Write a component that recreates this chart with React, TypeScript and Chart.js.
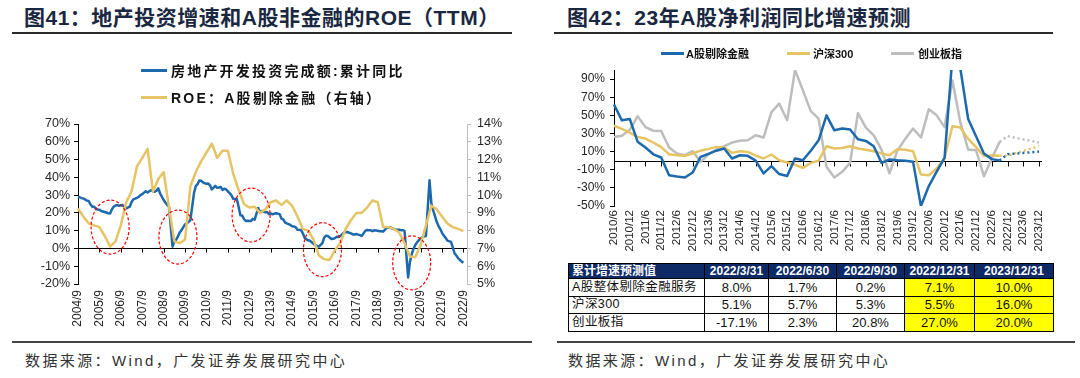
import React, { useEffect, useRef } from 'react';
import { Chart, registerables } from 'chart.js';

Chart.register(...registerables);

const FONT = '"Liberation Sans", Arial, "Noto Sans CJK SC", sans-serif';
const BLUE = '#1d69ad';
const GOLD = '#e6c463';
const GRAY = '#bdbdbd';

// ---------------- Figure 41 ----------------
const fig41Title = '图41：地产投资增速和A股非金融的ROE（TTM）';
const fig41Legend = ['房地产开发投资完成额:累计同比', 'ROE：A股剔除金融（右轴）'];

// monthly categories 2004/9 .. 2022/11 (axis range)
const reMonths: string[] = [];
for (let y = 2004, m = 9; y < 2022 || (y === 2022 && m <= 11); ) {
  reMonths.push(`${y}/${m}`);
  m += 1;
  if (m > 12) { m = 1; y += 1; }
}

// 房地产开发投资完成额:累计同比 (%), monthly from 2004/9, January not published
const reInvestYoY: (number | null)[] = [
  28.9, 28.8, 28.3, 28.1,
  null, 26.9, 26.7, 24.7, 23.5, 23.5, 22.3, 21.9, 21.8, 21.1, 20.8, 20.5,
  null, 19.8, 19.7, 22.0, 23.5, 24.2, 24.4, 24.0, 24.3, 24.4, 23.5, 22.5,
  null, 23.5, 26.0, 27.6, 28.0, 28.5, 29.0, 30.0, 30.5, 31.4, 32.2, 31.5,
  null, 32.9, 32.2, 31.9, 32.5, 33.8, 30.9, 29.1, 27.2, 25.8, 24.5, 23.4,
  null, 1.0, 4.1, 4.9, 6.8, 9.0, 10.3, 12.0, 13.5, 14.1, 15.0, 16.0,
  null, 31.1, 35.1, 36.2, 38.2, 38.1, 37.2, 36.7, 36.4, 36.5, 35.5, 33.2,
  null, 35.2, 34.1, 34.3, 34.6, 32.9, 33.6, 33.2, 32.0, 31.1, 29.9, 27.9,
  null, 27.8, 23.5, 18.7, 18.5, 16.6, 15.4, 15.6, 15.4, 15.4, 16.7, 16.2,
  null, 22.8, 20.2, 21.1, 20.6, 20.3, 20.5, 19.3, 19.7, 19.2, 19.5, 19.8,
  null, 19.3, 16.8, 16.4, 14.7, 14.1, 13.7, 13.2, 12.5, 12.4, 11.9, 10.5,
  null, 10.4, 8.5, 6.0, 5.1, 4.6, 4.3, 3.5, 2.6, 2.0, 1.3, 1.0,
  null, 3.0, 6.2, 7.2, 7.0, 6.1, 5.3, 5.4, 5.8, 6.6, 6.5, 6.9,
  null, 8.9, 9.1, 9.3, 8.8, 8.5, 7.9, 7.9, 8.1, 7.8, 7.5, 7.0,
  null, 9.9, 10.4, 10.3, 10.2, 9.7, 10.2, 10.1, 9.9, 9.7, 9.7, 9.5,
  null, 11.6, 11.8, 11.9, 11.2, 10.9, 10.6, 10.5, 10.5, 10.3, 10.2, 9.9,
  null, -16.3, -7.7, -3.3, -0.3, 1.9, 3.4, 4.6, 5.6, 6.3, 6.8, 7.0,
  null, 38.3, 25.6, 21.6, 18.3, 15.0, 12.7, 10.9, 8.8, 7.2, 6.0, 4.4,
  null, 3.7, 0.7, -2.7, -4.0, -5.4, -6.4, -7.4, -8.0,
];

// ROE (TTM) A股剔除金融 (%), quarterly from 2004/9
const roeTTM: number[] = [
  9.25, 8.8, 8.4, 8.3, 8.2, 7.7, 7.1, 7.4, 8.3, 9.6,
  10.2, 11.6, 12.1, 12.6, 10.2, 10.9, 11.3, 9.3, 7.4, 7.3,
  7.5, 10.5, 11.3, 11.9, 12.4, 12.9, 12.1, 12.5, 12.5, 11.2,
  10.3, 9.5, 9.3, 9.34, 9.0, 9.2, 9.6, 9.7, 9.45, 9.7,
  9.4, 8.8, 8.1, 8.0, 7.5, 6.6, 6.4, 6.35, 6.9, 7.3,
  8.1, 8.6, 9.0, 9.0, 9.3, 9.7, 9.6, 8.2, 8.2, 8.1,
  7.9, 7.3, 6.55, 6.5, 7.2, 8.3, 9.4, 9.2, 8.8, 8.4,
  8.2, 8.1, 7.97,
];
const roeSeries = reMonths.map((_, i) =>
  i % 3 === 0 && i / 3 < roeTTM.length ? roeTTM[i / 3] : null
);

const leftTicksY = { min: -20, max: 70, step: 10 };
const rightTicksY = { min: 5, max: 14, step: 1 };

// highlighted episodes (red dashed ellipses)
const highlightMonths = ['2006/3', '2009/5', '2012/10', '2016/2', '2020/4'];
const highlightLevels = [12.0, 6.4, 18.8, -0.7, -8.1];

// ---------------- Figure 42 ----------------
const fig42Title = '图42：23年A股净利润同比增速预测';
const fig42Series = ['A股剔除金融', '沪深300', '创业板指'];

const quarters: string[] = [];
for (let y = 2010, m = 6; y < 2023 || (y === 2023 && m <= 12); ) {
  quarters.push(`${y}/${m}`);
  m += 3;
  if (m > 12) { m = 3; y += 1; }
}

const exFinGrowth: number[] = [
  62, 44.5, 46, 21, 14.5, 7, 3.5, -16, -17.5, -18.5,
  -13, 4.2, 7.5, 11, 13.4, 2.4, 6, 5.3, 0, -14,
  -6, -14.8, -17, 2.4, 0.5, 11, 22.5, 50, 33.5, 35.4,
  34.3, 23.6, 21.8, 15.9, -2.4, 1.3, 0.5, 0, -1.3, -50,
  -28, -12, 3, 115, 102, 46, 27, 8.0, 1.7, 0.2,
];
const csi300Growth: number[] = [
  38.5, 35, 31, 26, 24.4, 20, 15, 7.1, 6, 5.3,
  7.9, 11, 13, 15.2, 14.5, 8.6, 10.4, 9.7, 5.5, 2.4,
  6.8, 0.5, -2, -4.5, -7.9, -2.4, 0, 15.9, 13.4, 14,
  15.9, 13.4, 12, 10.5, 8, 6, 12.5, 12, 10.4, -15.2,
  -16, -8.6, 3, 37.9, 36.5, 24, 15, 5.1, 5.7, 5.3,
];
const chinextGrowth: number[] = [
  26, 27.5, 34, 49, 37, 33, 32.8, 14.5, 7.9, 6,
  10.4, -1.3, 7, 12.3, 15.9, 20, 22, 22.5, 28, 25.5,
  53.6, 62.8, 44.5, 100, 77.5, 54.7, 46.4, -6.8, -18.5, -12.3,
  -2.4, 52.5, 36.5, 28, 12, -14, 11, 24, 35.4, 25.5,
  56.6, 50, 37, 88.5, 42.6, 12.3, 11.5, -17.1, 2.3, 20.8,
];

const growthTickValues = [-50, -30, -10, 10, 30, 50, 70, 90];
const growthRange = { min: -50, max: 100 };

// forecast table
const tableHeader = '累计增速预测值';
const tableDates = ['2022/3/31', '2022/6/30', '2022/9/30', '2022/12/31', '2023/12/31'];
const tableRowNames = ['A股整体剔除金融服务', '沪深300', '创业板指'];
const forecastExFin = [8.0, 1.7, 0.2, 7.1, 10.0];
const forecastCsi300 = [5.1, 5.7, 5.3, 5.5, 16.0];
const forecastChinext = [-17.1, 2.3, 20.8, 27.0, 20.0];
const forecastRows = [forecastExFin, forecastCsi300, forecastChinext];

const sourceText = '数据来源：Wind，广发证券发展研究中心';

// forecast (dotted) series built from the table: from 2022/9 on
function forecastSeries(row: number[]) {
  const out: (number | null)[] = quarters.map(() => null);
  [2, 3, 4].forEach((k) => {
    const q = tableDates[k].split('/').slice(0, 2).join('/');
    const idx = quarters.indexOf(q);
    if (idx >= 0) out[idx] = row[k];
  });
  return out;
}

// ---------------- plugins ----------------
const axisAtZero = {
  id: 'axisAtZero',
  beforeDatasetsDraw(chart: any, _args: any, opts: any) {
    const { ctx, chartArea, scales } = chart;
    const y = Math.round(scales[opts.yId].getPixelForValue(0)) + 0.5;
    const xs = scales.x;
    ctx.save();
    ctx.strokeStyle = '#000';
    ctx.lineWidth = 1;
    ctx.beginPath();
    ctx.moveTo(chartArea.left, y);
    ctx.lineTo(chartArea.right + (opts.extend || 0), y);
    const n = xs.getLabels().length;
    for (let i = 0; i < n; i += opts.every) {
      if (!opts.showFirst && i === 0) continue;
      const px = Math.round(xs.getPixelForValue(i)) + 0.5;
      ctx.moveTo(px, y);
      ctx.lineTo(px, y + opts.len);
    }
    ctx.stroke();
    ctx.restore();
  },
};

const ellipses = {
  id: 'ellipses',
  afterDatasetsDraw(chart: any, _args: any, opts: any) {
    if (!opts || !opts.labels) return;
    const { ctx, scales } = chart;
    ctx.save();
    ctx.strokeStyle = '#ff0000';
    ctx.lineWidth = 1.2;
    ctx.setLineDash([3, 2]);
    opts.labels.forEach((lab: string, i: number) => {
      const cx = scales.x.getPixelForValue(scales.x.getLabels().indexOf(lab));
      const cy = scales.y.getPixelForValue(opts.values[i]);
      ctx.beginPath();
      ctx.ellipse(cx, cy, opts.rx, opts.ry, 0, 0, Math.PI * 2);
      ctx.stroke();
    });
    ctx.restore();
  },
};

const tickFont = { family: FONT, size: 12 };

function leftConfig(): any {
  return {
    type: 'line',
    data: {
      labels: reMonths,
      datasets: [
        {
          label: fig41Legend[0], data: reInvestYoY, yAxisID: 'y',
          borderColor: BLUE, backgroundColor: BLUE, borderWidth: 2.5, spanGaps: true, order: 1,
        },
        {
          label: fig41Legend[1], data: roeSeries, yAxisID: 'y1',
          borderColor: GOLD, backgroundColor: GOLD, borderWidth: 2.5, spanGaps: true, order: 0,
        },
      ],
    },
    options: {
      animation: false, responsive: false, devicePixelRatio: 1,
      layout: { padding: { top: 84, left: 0, right: 0, bottom: 0 } },
      elements: { point: { radius: 0 }, line: { tension: 0, borderJoinStyle: 'round' } },
      plugins: {
        legend: { display: false }, tooltip: { enabled: false },
        axisAtZero: { yId: 'y', every: 12, len: 4, showFirst: false },
        ellipses: { labels: highlightMonths, values: highlightLevels, rx: 19, ry: 27 },
      },
      scales: {
        x: {
          type: 'category', offset: false,
          grid: { display: false, drawTicks: false }, border: { display: false },
          ticks: {
            autoSkip: false, maxRotation: 90, minRotation: 90, padding: 6, color: '#262626',
            font: tickFont,
            callback: (_v: any, i: number) => (i % 12 === 0 && i < 217 ? reMonths[i] : ''),
          },
          afterFit: (s: any) => { s.height = 56; },
        },
        y: {
          position: 'left', min: leftTicksY.min, max: leftTicksY.max,
          ticks: { autoSkip: false, stepSize: leftTicksY.step, callback: (v: any) => `${v}%`, color: '#262626', font: { family: FONT, size: 12.5 }, padding: 4 },
          grid: { drawOnChartArea: false, color: '#000', tickLength: 4 },
          border: { color: '#000' },
          afterFit: (s: any) => { s.width = 78; },
        },
        y1: {
          position: 'right', min: rightTicksY.min, max: rightTicksY.max,
          ticks: { autoSkip: false, stepSize: rightTicksY.step, callback: (v: any) => `${v}%`, color: '#262626', font: { family: FONT, size: 12.5 }, padding: 6 },
          grid: { drawOnChartArea: false, color: '#bfbfbf', tickLength: 4 },
          border: { color: '#bfbfbf' },
          afterFit: (s: any) => { s.width = 73; },
        },
      },
    },
    plugins: [axisAtZero, ellipses],
  };
}

function rightConfig(): any {
  const solid = (label: string, data: number[], color: string) => ({
    label, data, borderColor: color, backgroundColor: color, borderWidth: 2.5,
  });
  const dotted = (label: string, row: number[], color: string) => ({
    label, data: forecastSeries(row), borderColor: color, backgroundColor: color,
    borderWidth: 2.5, borderDash: [2, 3], spanGaps: true,
  });
  return {
    type: 'line',
    data: {
      labels: quarters,
      datasets: [
        solid(fig42Series[0], exFinGrowth, BLUE),
        solid(fig42Series[1], csi300Growth, GOLD),
        solid(fig42Series[2], chinextGrowth, GRAY),
        dotted(fig42Series[0] + '预测', forecastExFin, BLUE),
        dotted(fig42Series[1] + '预测', forecastCsi300, GOLD),
        dotted(fig42Series[2] + '预测', forecastChinext, GRAY),
      ],
    },
    options: {
      animation: false, responsive: false, devicePixelRatio: 1,
      layout: { padding: { top: 30, left: 0, right: 41, bottom: 0 } },
      elements: { point: { radius: 0 }, line: { tension: 0, borderJoinStyle: 'round' } },
      plugins: {
        legend: { display: false }, tooltip: { enabled: false },
        axisAtZero: { yId: 'y', every: 2, len: 5, showFirst: false, extend: 3 },
      },
      scales: {
        x: {
          type: 'category', offset: false,
          grid: { display: false, drawTicks: false }, border: { display: false },
          ticks: {
            autoSkip: false, maxRotation: 90, minRotation: 90, padding: 4, color: '#262626',
            font: { family: FONT, size: 11.5 },
            callback: (_v: any, i: number) => (i % 2 === 0 ? quarters[i] : ''),
          },
          afterFit: (s: any) => { s.height = 54; },
        },
        y: {
          position: 'left', min: growthRange.min, max: growthRange.max,
          afterBuildTicks: (s: any) => { s.ticks = growthTickValues.map((v) => ({ value: v })); },
          ticks: { autoSkip: false, callback: (v: any) => `${v}%`, color: '#262626', font: tickFont, padding: 5 },
          grid: { drawOnChartArea: false, color: '#000', tickLength: 4 },
          border: { color: '#000' },
          afterFit: (s: any) => { s.width = 74; },
        },
      },
    },
    plugins: [axisAtZero],
  };
}

const abs = (o: React.CSSProperties): React.CSSProperties => ({ position: 'absolute', ...o });

export default function App() {
  const leftRef = useRef<HTMLCanvasElement>(null);
  const rightRef = useRef<HTMLCanvasElement>(null);

  useEffect(() => {
    const c1 = new Chart(leftRef.current as HTMLCanvasElement, leftConfig());
    const c2 = new Chart(rightRef.current as HTMLCanvasElement, rightConfig());
    return () => { c1.destroy(); c2.destroy(); };
  }, []);

  const titleStyle: React.CSSProperties = {
    fontFamily: FONT, fontWeight: 700, fontSize: 21, lineHeight: '22px', color: '#1a2740',
    whiteSpace: 'nowrap', letterSpacing: 0.5,
  };
  const legend41: React.CSSProperties = {
    fontFamily: FONT, fontWeight: 700, fontSize: 14, lineHeight: '18px', color: '#111',
    whiteSpace: 'nowrap', letterSpacing: 2.2,
  };
  const legend42: React.CSSProperties = {
    fontFamily: FONT, fontWeight: 700, fontSize: 11, lineHeight: '14px', color: '#111',
    whiteSpace: 'nowrap',
  };
  const srcStyle: React.CSSProperties = {
    fontFamily: FONT, fontSize: 15, lineHeight: '18px', color: '#333', whiteSpace: 'nowrap',
    letterSpacing: 2.4,
  };
  const colW = [136, 64, 68, 68, 70, 79];
  const cellBase: React.CSSProperties = {
    border: '1px solid #000', padding: 0, overflow: 'hidden', whiteSpace: 'nowrap',
  };
  const legend42Items = [
    { line: 661, text: 686, color: BLUE },
    { line: 787, text: 813, color: GOLD },
    { line: 891, text: 918, color: GRAY },
  ];

  return (
    <div style={abs({ left: 0, top: 0, width: 1080, height: 378, background: '#fff', overflow: 'hidden' })}>
      {/* titles */}
      <div style={abs({ left: 24, top: 7, ...titleStyle })}>{fig41Title}</div>
      <div style={abs({ left: 12, top: 32, width: 500, height: 2, background: '#2b2b2b' })} />
      <div style={abs({ left: 567, top: 7, ...titleStyle })}>{fig42Title}</div>
      <div style={abs({ left: 554, top: 32, width: 499, height: 2, background: '#2b2b2b' })} />

      {/* left chart */}
      <canvas ref={leftRef} width={540} height={300} style={abs({ left: 0, top: 40, width: 540, height: 300 })} />
      {fig41Legend.map((t, i) => (
        <React.Fragment key={t}>
          <div style={abs({ left: 141, top: 70 + i * 27 - 1.5, width: 26, height: 3, background: i === 0 ? BLUE : GOLD })} />
          <div style={abs({ left: 171, top: 62 + i * 27, ...legend41 })}>{t}</div>
        </React.Fragment>
      ))}

      {/* right chart */}
      <canvas ref={rightRef} width={540} height={220} style={abs({ left: 540, top: 40, width: 540, height: 220 })} />
      {fig42Series.map((t, i) => (
        <React.Fragment key={t}>
          <div style={abs({ left: legend42Items[i].line, top: 52, width: 23, height: 3, background: legend42Items[i].color })} />
          <div style={abs({ left: legend42Items[i].text, top: 46.5, ...legend42 })}>{t}</div>
        </React.Fragment>
      ))}

      {/* forecast table */}
      <table style={abs({ left: 568, top: 263, borderCollapse: 'collapse', tableLayout: 'fixed', width: colW.reduce((a, b) => a + b, 0) })}>
        <colgroup>
          {colW.map((w, i) => <col key={i} style={{ width: w }} />)}
        </colgroup>
        <tbody>
          <tr style={{ height: 15 }}>
            <td style={{ ...cellBase, background: '#0d2a66', color: '#fff', fontFamily: FONT, fontWeight: 700, fontSize: 12, textAlign: 'left', paddingLeft: 3, lineHeight: '13px' }}>{tableHeader}</td>
            {tableDates.map((d) => (
              <td key={d} style={{ ...cellBase, background: '#0d2a66', color: '#fff', fontFamily: FONT, fontWeight: 700, fontSize: 12, textAlign: 'center', lineHeight: '13px' }}>{d}</td>
            ))}
          </tr>
          {tableRowNames.map((name, r) => (
            <tr key={name} style={{ height: 17.5 }}>
              <td style={{ ...cellBase, fontFamily: FONT, fontSize: 12.5, textAlign: 'left', paddingLeft: 3, color: '#111', lineHeight: '15px', letterSpacing: 0.4 }}>{name}</td>
              {forecastRows[r].map((v, k) => (
                <td key={k} style={{ ...cellBase, fontFamily: FONT, fontSize: 13, textAlign: 'center', color: '#111', lineHeight: '15px', background: k >= 3 ? '#ffff00' : '#fff' }}>
                  {`${v.toFixed(1)}%`}
                </td>
              ))}
            </tr>
          ))}
        </tbody>
      </table>

      {/* footers */}
      <div style={abs({ left: 12, top: 341, width: 520, height: 2, background: '#444' })} />
      <div style={abs({ left: 557, top: 341, width: 518, height: 2, background: '#444' })} />
      <div style={abs({ left: 25, top: 352, ...srcStyle })}>{sourceText}</div>
      <div style={abs({ left: 568, top: 352, ...srcStyle })}>{sourceText}</div>
    </div>
  );
}
